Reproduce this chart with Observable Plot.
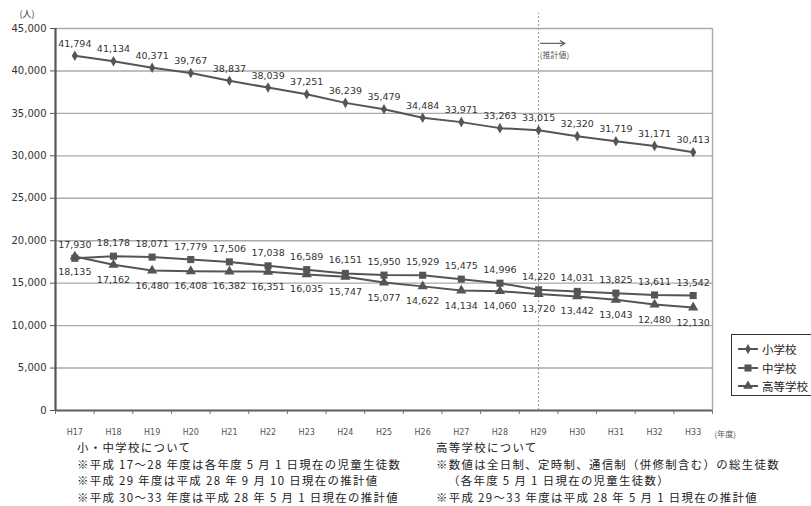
<!DOCTYPE html>
<html><head><meta charset="utf-8">
<script src="https://cdn.jsdelivr.net/npm/d3@7"></script>
<script src="https://cdn.jsdelivr.net/npm/@observablehq/plot@0.6"></script>
<style>
body{margin:0;background:#fff;}
#wrap{position:relative;width:811px;height:506px;overflow:hidden;background:#fff;font-family:"Noto Sans CJK JP","Noto Sans",sans-serif;}
#chart{position:absolute;left:0;top:0;}
#legend{position:absolute;left:731px;top:334px;width:110px;height:60px;border:1px solid #333;background:#fff;font-size:11.5px;color:#222;}
#legend .row{position:absolute;left:6px;height:16px;display:flex;align-items:center;}
#legend svg{margin-right:4px;}
.notes{position:absolute;top:439px;font-size:11.4px;letter-spacing:1.35px;line-height:16.6px;color:#222;white-space:nowrap;}
</style></head>
<body><div id="wrap"><div id="chart"></div>
<div id="legend"></div>
<div class="notes" id="noteL" style="left:77px"></div>
<div class="notes" id="noteR" style="left:436px"></div>
</div>
<script>
const years = ["H17","H18","H19","H20","H21","H22","H23","H24","H25","H26","H27","H28","H29","H30","H31","H32","H33"];
const elementary = [41794,41134,40371,39767,38837,38039,37251,36239,35479,34484,33971,33263,33015,32320,31719,31171,30413];
const juniorHigh = [17930,18178,18071,17779,17506,17038,16589,16151,15950,15929,15475,14996,14220,14031,13825,13611,13542];
const highSchool = [18135,17162,16480,16408,16382,16351,16035,15747,15077,14622,14134,14060,13720,13442,13043,12480,12130];
const seriesNames = ["小学校","中学校","高等学校"];
const yTicks = [0,5000,10000,15000,20000,25000,30000,35000,40000,45000];
const estimateStart = "H29";
const notesLeft = ["小・中学校について","※平成 17～28 年度は各年度 5 月 1 日現在の児童生徒数","※平成 29 年度は平成 28 年 9 月 10 日現在の推計値","※平成 30～33 年度は平成 28 年 5 月 1 日現在の推計値"];
const notesRight = ["高等学校について","※数値は全日制、定時制、通信制（併修制含む）の総生徒数","（各年度 5 月 1 日現在の児童生徒数）","※平成 29～33 年度は平成 28 年 5 月 1 日現在の推計値"];

const toRows = (arr, s) => arr.map((v, i) => ({i, v, s}));
const eRows = toRows(elementary, seriesNames[0]);
const jRows = toRows(juniorHigh, seriesNames[1]);
const hRows = toRows(highSchool, seriesNames[2]);
const all = [...eRows, ...jRows, ...hRows];
const fmt = d3.format(",");
const col = "#555";
const estI = years.indexOf(estimateStart);
const numFont = "DejaVu Sans";

const chart = Plot.plot({
  width: 811, height: 442,
  marginLeft: 55, marginRight: 99, marginTop: 28, marginBottom: 32,
  x: {type: "linear", domain: [-0.5, years.length - 0.5]},
  y: {domain: [0, 45000]},
  style: {fontFamily: numFont, background: "transparent", color: "#333"},
  marks: [
    Plot.gridY({ticks: yTicks, stroke: "#aaa", strokeOpacity: 1, strokeWidth: 1.4}),
    Plot.ruleX([years.length - 0.5], {stroke: "#aaa", strokeWidth: 1.4}),
    Plot.ruleX([estI], {y1: 0, y2: 46800, stroke: "#999", strokeDasharray: "2,2"}),
    Plot.arrow([0], {x1: estI + 0.05, x2: estI + 0.68, y1: 43250, y2: 43250, stroke: "#666", strokeWidth: 1.3, headLength: 6}),
    Plot.text(["(推計値)"], {x: estI + 0.03, y: 41800, text: d => d, textAnchor: "start", fontSize: 8, fill: "#555", fontFamily: "Noto Sans CJK JP"}),
    Plot.line(all, {x: "i", y: "v", z: "s", stroke: col, strokeWidth: 2}),
    Plot.dot(eRows, {x: "i", y: "v", symbol: "diamond", fill: col, r: 3.2}),
    Plot.dot(jRows, {x: "i", y: "v", symbol: "square", fill: col, r: 4}),
    Plot.dot(hRows, {x: "i", y: "v", symbol: "triangle", fill: col, r: 3.8}),
    Plot.text(eRows, {x: "i", y: "v", text: d => fmt(d.v), dy: -12, fontSize: 9.5, fill: "#333"}),
    Plot.text(jRows, {x: "i", y: "v", text: d => fmt(d.v), dy: -13, fontSize: 9.5, fill: "#333"}),
    Plot.text(hRows, {x: "i", y: "v", text: d => fmt(d.v), dy: 15, fontSize: 9.5, fill: "#333"}),
    Plot.axisY({ticks: yTicks, tickSize: 5, tickPadding: 4, tickFormat: fmt, label: null, fontSize: 10, stroke: "#555"}),
    Plot.axisX({ticks: d3.range(-0.5, years.length, 1), tickSize: 4, tickFormat: () => "", label: null, stroke: "#777"}),
    Plot.axisX({ticks: d3.range(years.length), tickSize: 0, tickPadding: 19, tickFormat: i => years[i], label: null, fontSize: 8, fill: "#555"}),
    Plot.text(["(年度)"], {x: years.length - 0.5, y: 0, dy: 24, dx: 2, text: d => d, textAnchor: "start", fontSize: 8, fill: "#555", fontFamily: "Noto Sans CJK JP"}),
    Plot.text(["(人)"], {frameAnchor: "top-left", dx: -36, dy: -18, text: d => d, textAnchor: "start", fontSize: 9, fill: "#333", fontFamily: "Noto Sans CJK JP"}),
    Plot.ruleY([0], {stroke: "#666", strokeWidth: 2}),
    Plot.ruleX([-0.5], {stroke: "#555", strokeWidth: 2.2})
  ]
});
document.getElementById("chart").appendChild(chart);

// legend
const symbols = [d3.symbolDiamond, d3.symbolSquare, d3.symbolTriangle];
const sizes = [30, 50, 40];
const lg = document.getElementById("legend");
seriesNames.forEach((name, k) => {
  const row = document.createElement("div");
  row.className = "row";
  row.style.top = (6 + k * 18.5) + "px";
  const path = d3.symbol(symbols[k], sizes[k])();
  row.innerHTML = `<svg width="20" height="10"><line x1="0" x2="20" y1="5" y2="5" stroke="${col}" stroke-width="2"/><path d="${path}" transform="translate(10,5)" fill="${col}"/></svg><span>${name}</span>`;
  lg.appendChild(row);
});
document.getElementById("noteL").innerHTML = notesLeft.map(t => `<div>${t}</div>`).join("");
document.getElementById("noteR").innerHTML = notesRight.map((t, k) => `<div style="${k === 2 ? 'padding-left:12px' : ''}">${t}</div>`).join("");
</script></body></html>
